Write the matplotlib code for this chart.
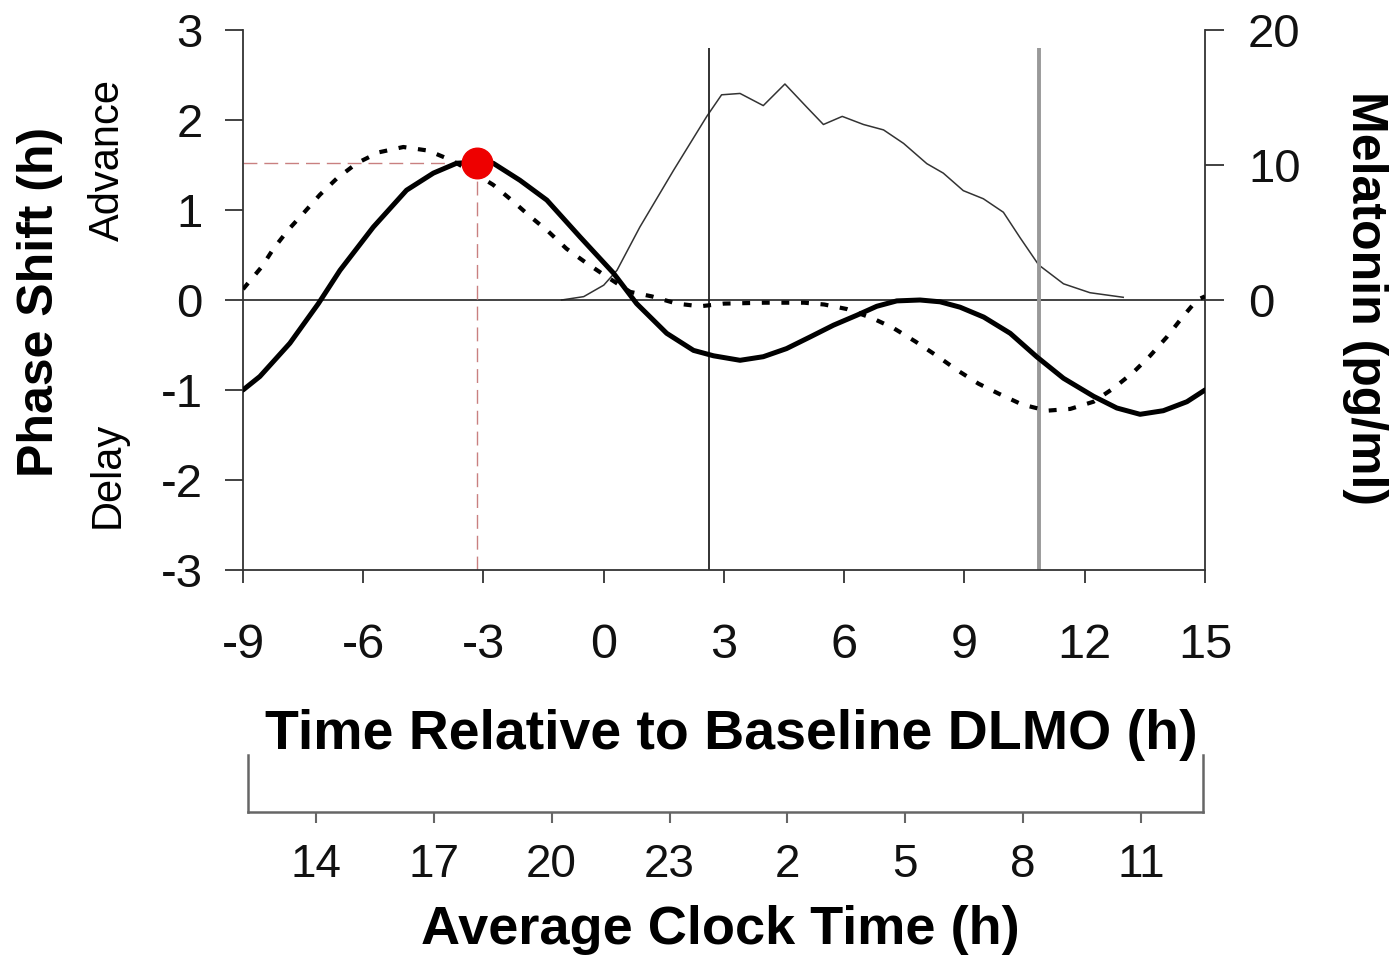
import matplotlib.pyplot as plt

plt.rcParams['font.family'] = ['Liberation Sans', 'DejaVu Sans']
plt.rcParams['axes.unicode_minus'] = False

# phase response curve, solid (h relative to DLMO -> phase shift h)
prc_x = [-9, -8.58, -7.83, -7.12, -6.58, -5.75, -4.92, -4.25, -3.67, -3.17, -2.76, -2.09,
         -1.42, -0.59, 0.24, 0.82, 1.57, 2.24, 2.74, 3.4, 3.98, 4.56, 5.15, 5.73, 6.31,
         6.81, 7.31, 7.89, 8.39, 8.89, 9.48, 10.14, 10.8, 11.47, 12.22, 12.8, 13.38,
         13.96, 14.55, 15]
prc_y = [-1.0, -0.85, -0.48, -0.04, 0.33, 0.81, 1.22, 1.41, 1.52, 1.53, 1.52, 1.33,
         1.11, 0.70, 0.30, -0.04, -0.37, -0.56, -0.62, -0.67, -0.63, -0.54, -0.41, -0.28,
         -0.17, -0.07, -0.01, 0.0, -0.02, -0.08, -0.19, -0.37, -0.63, -0.87, -1.07, -1.20,
         -1.27, -1.23, -1.13, -1.0]

# second phase response curve, dotted
prc2_x = [-9, -8.53, -8.24, -7.87, -7.5, -7.08, -6.66, -6.16, -5.62, -5.0, -4.38, -3.84,
          -3.3, -2.76, -2.3, -1.84, -1.38, -0.93, -0.43, 0.07, 0.66, 1.2, 1.82, 2.4, 3.0,
          4.0, 5.0, 5.5, 6.06, 6.69, 7.22, 7.77, 8.31, 8.82, 9.35, 9.85, 10.43, 11.05,
          11.64, 12.22, 12.72, 13.22, 13.63, 14.05, 14.42, 14.8, 15]
prc2_y = [0.12, 0.37, 0.57, 0.78, 0.96, 1.17, 1.35, 1.52, 1.64, 1.70, 1.66, 1.56,
          1.43, 1.28, 1.11, 0.93, 0.76, 0.57, 0.41, 0.26, 0.09, 0.04, -0.04, -0.07, -0.04,
          -0.03, -0.03, -0.05, -0.10, -0.20, -0.31, -0.46, -0.62, -0.78, -0.93, -1.04,
          -1.16, -1.23, -1.21, -1.13, -0.98, -0.80, -0.62, -0.41, -0.20, 0.0, 0.04]

# melatonin profile (pg/ml)
mel_x = [-1.05, -0.5, 0.0, 0.33, 0.9, 1.74, 2.57, 2.94, 3.4, 3.98, 4.52, 5.06, 5.48,
         5.95, 6.48, 6.98, 7.48, 8.06, 8.47, 8.97, 9.47, 9.97, 10.39, 10.85, 11.47,
         12.13, 12.96]
mel_y = [0, 0.25, 1.1, 2.2, 5.4, 9.6, 13.6, 15.2, 15.3, 14.4, 16.0, 14.3, 13.0,
         13.6, 13.0, 12.6, 11.6, 10.1, 9.4, 8.1, 7.5, 6.5, 4.6, 2.6, 1.2, 0.54, 0.2]

peak_x, peak_y = -3.17, 1.52
sleep_on, sleep_off = 2.63, 10.85

x_ticks = [-9, -6, -3, 0, 3, 6, 9, 12, 15]
y_ticks = [-3, -2, -1, 0, 1, 2, 3]
mel_ticks = [0, 10, 20]
clock_pos = [14, 17, 20, 23, 26, 29, 32, 35]
clock_labels = ['14', '17', '20', '23', '2', '5', '8', '11']

W, H = 1398, 957
fig = plt.figure(figsize=(W / 100, H / 100), dpi=100)

ax = fig.add_axes([243 / W, 1 - 570 / H, (1205 - 243) / W, (570 - 30) / H])
ax2 = ax.twinx()
ax.set_zorder(ax2.get_zorder() + 1)
ax.patch.set_visible(False)

ax.set_xlim(-9, 15)
ax.set_ylim(-3, 3)
ax2.set_ylim(-20, 20)

for a in (ax, ax2):
    a.spines['top'].set_visible(False)
    for s in a.spines.values():
        s.set_color('#333333')
        s.set_linewidth(1.3)
ax.spines['right'].set_visible(False)
ax2.spines['left'].set_visible(False)
ax2.spines['bottom'].set_visible(False)

ax.set_xticks(x_ticks)
ax.set_yticks(y_ticks)
ax2.set_yticks(mel_ticks)
ax.tick_params(axis='x', direction='out', length=9, width=1.3, pad=29,
               labelsize=35, color='#333333', labelcolor='#111111')
ax.tick_params(axis='y', direction='out', length=13, width=1.3, pad=16,
               labelsize=34, color='#333333', labelcolor='#111111')
ax2.tick_params(axis='y', direction='out', length=14, width=1.3, pad=17,
                labelsize=34, color='#333333', labelcolor='#111111')

ax.axhline(0, color='#222222', lw=1.2, zorder=1)
ax.vlines(sleep_on, -3, 2.8, color='#222222', lw=1.3, zorder=1)
ax.vlines(sleep_off, -3, 2.8, color='#999999', lw=2.8, zorder=1)

ax2.plot(mel_x, mel_y, color='#333333', lw=1.1)

ax.plot([-9, peak_x], [peak_y, peak_y], color='#c98080', lw=1, ls=(0, (10, 5)), zorder=2)
ax.plot([peak_x, peak_x], [-3, peak_y], color='#c98080', lw=1, ls=(0, (10, 5)), zorder=2)

ax.plot(prc2_x, prc2_y, color='black', lw=3.0, ls=(0, (1.9, 2.8)), zorder=3)
ax.plot(prc_x, prc_y, color='black', lw=3.6, zorder=4, solid_capstyle='round',
        solid_joinstyle='round')
ax.plot([peak_x], [peak_y], 'o', color='#ee0000', ms=22, zorder=5)

# clock time scale under the main axis
ax3 = fig.add_axes([248 / W, 1 - 812 / H, (1203 - 248) / W, (812 - 755) / H])
ax3.patch.set_visible(False)
ax3.set_xlim(12.27, 36.58)
ax3.set_ylim(0, 1)
ax3.spines['top'].set_visible(False)
for s in ('left', 'right', 'bottom'):
    ax3.spines[s].set_color('#666666')
    ax3.spines[s].set_linewidth(1.8)
ax3.set_yticks([])
ax3.set_xticks(clock_pos)
ax3.set_xticklabels(clock_labels)
ax3.tick_params(axis='x', direction='out', length=8, width=1.5, pad=14,
                labelsize=33, color='#666666', labelcolor='#111111')

fig.text(40 / W, 1 - 302 / H, 'Phase Shift (h)', rotation=90, ha='center', va='center',
         fontsize=36, fontweight='bold')
fig.text(108 / W, 1 - 160 / H, 'Advance', rotation=90, ha='center', va='center', fontsize=30)
fig.text(108 / W, 1 - 475 / H, 'Delay', rotation=90, ha='center', va='center', fontsize=30)
fig.text(1365 / W, 1 - 298 / H, 'Melatonin (pg/ml)', rotation=270, ha='center', va='center',
         fontsize=36, fontweight='bold')
fig.text(731 / W, 1 - 735 / H, 'Time Relative to Baseline DLMO (h)', ha='center', va='center',
         fontsize=40, fontweight='bold')
fig.text(720 / W, 1 - 930 / H, 'Average Clock Time (h)', ha='center', va='center',
         fontsize=39, fontweight='bold')

fig.savefig('out.png', dpi=100)
